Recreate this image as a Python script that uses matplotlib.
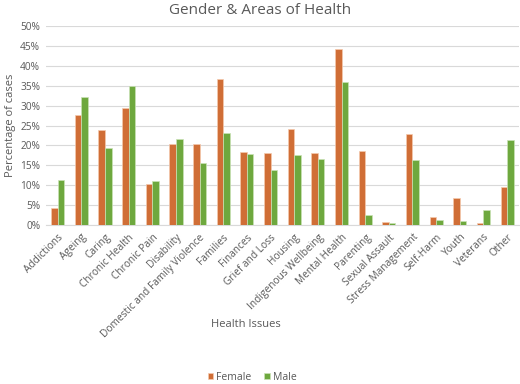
import numpy as np
import matplotlib
matplotlib.use('Agg')
import matplotlib.pyplot as plt
from matplotlib.ticker import PercentFormatter

# values (percent of cases)
issues = ['Addictions', 'Ageing', 'Caring', 'Chronic Health', 'Chronic Pain', 'Disability',
          'Domestic and Family Violence', 'Families', 'Finances', 'Grief and Loss', 'Housing',
          'Indigenous Wellbeing', 'Mental Health', 'Parenting', 'Sexual Assault',
          'Stress Management', 'Self-Harm', 'Youth', 'Veterans', 'Other']
female = [4.2, 27.6, 24.0, 29.4, 10.2, 20.3, 20.3, 36.8, 18.4, 18.0, 24.2,
          18.0, 44.3, 18.6, 0.7, 22.8, 2.0, 6.9, 0.5, 9.6]
male = [11.2, 32.1, 19.3, 35.0, 11.0, 21.7, 15.7, 23.2, 17.8, 13.8, 17.5,
        16.6, 36.0, 2.5, 0.4, 16.3, 1.2, 0.9, 3.7, 21.4]

orange = '#D06E36'
green = '#6EA83E'
grey = '#595959'

plt.rcParams['font.family'] = ['Open Sans', 'DejaVu Sans']

fig = plt.figure(figsize=(5.2, 3.84), dpi=100)
ax = fig.add_axes([0.088, 0.414, 0.91, 0.518])

x = np.arange(len(issues))
w = 0.28
ax.bar(x - w / 2, female, w, color=orange, edgecolor='#F4C9AE', linewidth=0.5, label='Female', zorder=3)
ax.bar(x + w / 2, male, w, color=green, edgecolor='#C9E2B6', linewidth=0.5, label='Male', zorder=3)

ax.set_xlim(-0.5, len(issues) - 0.5)
ax.set_ylim(0, 50)
ax.set_yticks(np.arange(0, 51, 5))
ax.yaxis.set_major_formatter(PercentFormatter(decimals=0))
ax.grid(axis='y', color='#D9D9D9', linewidth=0.8, zorder=0)

for s in ['top', 'right', 'left']:
    ax.spines[s].set_visible(False)
ax.spines['bottom'].set_color('#D9D9D9')

ax.set_xticks(x)
ax.set_xticklabels(issues, rotation=45, ha='right', rotation_mode='anchor', fontsize=7.3, color=grey)
ax.tick_params(axis='x', length=0, pad=5)
ax.tick_params(axis='y', length=0, labelsize=7.3, labelcolor=grey, pad=4)

ax.set_ylabel('Percentage of cases', fontsize=8, color=grey, labelpad=3)
fig.text(0.473, 0.155, 'Health Issues', fontsize=8, color=grey, ha='center', va='center')
fig.text(0.5, 0.972, 'Gender & Areas of Health', fontsize=11, color=grey, ha='center', va='center')

fig.legend(loc='center', bbox_to_anchor=(0.485, 0.018), ncol=2, frameon=False, fontsize=7.5,
           handlelength=0.55, handleheight=0.55, handletextpad=0.3, columnspacing=1.2, labelcolor=grey)

fig.savefig('out.png', dpi=100)
